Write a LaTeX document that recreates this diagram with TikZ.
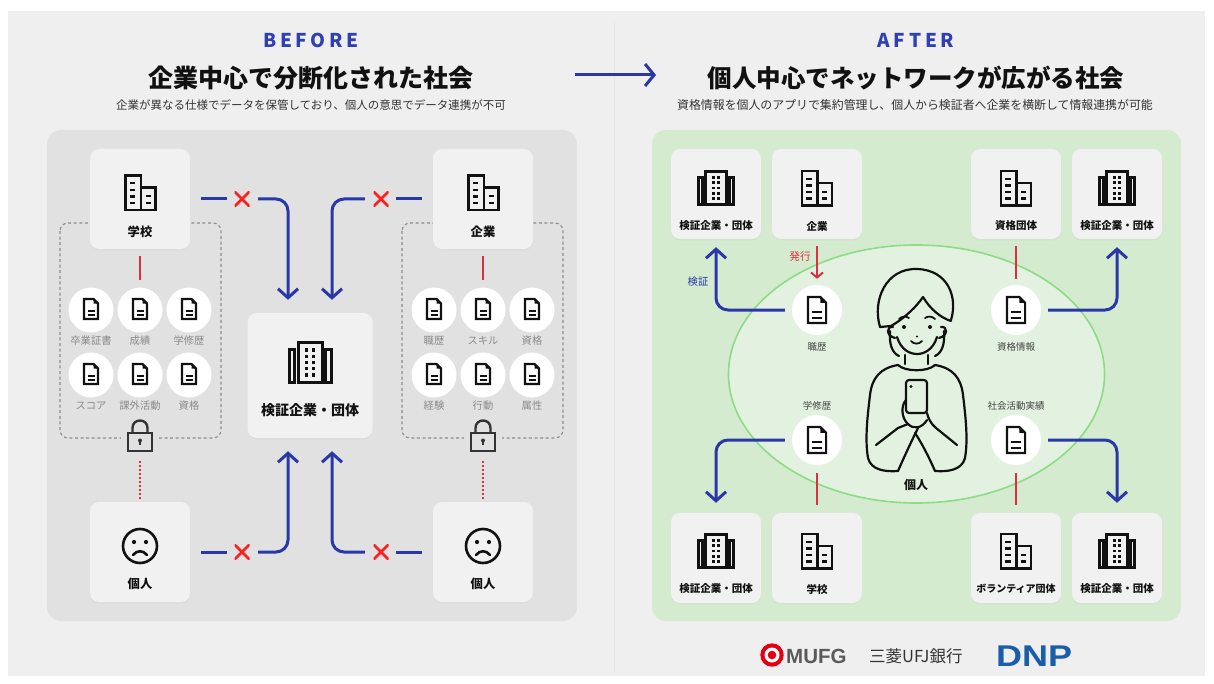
\documentclass[tikz,border=0pt]{standalone}
\usepackage{fontspec}
\setmainfont{Noto Sans CJK JP}
\newfontfamily\latinhead[LetterSpace=20]{Noto Sans CJK JP}
\newfontfamily\logofont{Liberation Sans}
\usetikzlibrary{arrows.meta,shadows}

\definecolor{pagebg}{HTML}{EFEFEF}
\definecolor{leftpanel}{HTML}{E1E1E1}
\definecolor{boxfill}{HTML}{F1F1F1}
\definecolor{greenpanel}{HTML}{D4EBD0}
\definecolor{ellfill}{HTML}{E3F2E0}
\definecolor{ellline}{HTML}{8EDB86}
\definecolor{flowblue}{HTML}{2A37A8}
\definecolor{headblue}{HTML}{2E40B4}
\definecolor{linkred}{HTML}{DC3040}
\definecolor{crossred}{HTML}{FF1E1E}
\definecolor{inkgray}{HTML}{111111}
\definecolor{lockgray}{HTML}{333333}
\definecolor{labelgray}{HTML}{8A8A8A}
\definecolor{darklabel}{HTML}{444444}
\definecolor{subgray}{HTML}{333333}
\definecolor{dashgray}{HTML}{8C8C8C}
\definecolor{mufgred}{HTML}{E60012}
\definecolor{mufggray}{HTML}{5A5A5A}
\definecolor{dnpblue}{HTML}{1A5DAB}

\tikzset{
  card/.style={draw=none, fill=boxfill, rounded corners=9pt, inner sep=0pt,
    drop shadow={shadow xshift=0pt, shadow yshift=-1.5pt, opacity=0.05}},
  bigcard/.style={card, minimum width=100pt, minimum height=100pt},
  hubcard/.style={card, minimum width=125pt, minimum height=125pt},
  smallcard/.style={card, minimum width=90pt, minimum height=90pt},
  docdot/.style={circle, fill=white, draw=none, inner sep=0pt, minimum size=45pt},
  bigdocdot/.style={circle, fill=white, draw=none, inner sep=0pt, minimum size=50pt},
  cardlabel/.style={font=\fontsize{12.3}{14}\selectfont\bfseries, text=inkgray, inner sep=0pt},
  minilabel/.style={font=\fontsize{10.5}{12}\selectfont\bfseries, text=inkgray, inner sep=0pt},
  doclabel/.style={font=\fontsize{10.3}{12}\selectfont, text=labelgray, inner sep=0pt},
  itemlabel/.style={font=\fontsize{9.5}{11}\selectfont, text=darklabel, inner sep=0pt},
  frame/.style={draw=dashgray, line width=1.1pt, dash pattern=on 3pt off 2.6pt, rounded corners=8pt},
  flow/.style={draw=flowblue, line width=3pt},
  flowarrow/.style={flow, rounded corners=12pt, -{Straight Barb[length=9pt,width=20pt]}},
  issue/.style={draw=linkred, line width=2pt, -{Straight Barb[length=5pt,width=12pt]}},
  tie/.style={draw=linkred, line width=2pt},
  dottie/.style={draw=linkred, line width=2pt, dash pattern=on 2pt off 2pt},
  nogo/.style={minimum size=15pt, inner sep=0pt, path picture={
      \draw[crossred, line width=2.5pt]
        (path picture bounding box.north west) -- (path picture bounding box.south east)
        (path picture bounding box.north east) -- (path picture bounding box.south west);}},
  person/.style={draw=inkgray, line width=2.2pt, line cap=round, line join=round},
  % company building: tall block with a lower annex
  tower/.pic={
    \draw[line width=2.7pt, inkgray] (-15,-17) rectangle (0.5,17.5) (0.5,-5) rectangle (15,17.5);
    \foreach \w in {-9.2,-2.5,4.2,10.4}{\fill[inkgray] (-11,\w-1.2) rectangle (-5.5,\w+1.2);}
    \foreach \w in {3.8,10.4}{\fill[inkgray] (5,\w-1.2) rectangle (10,\w+1.2);}
  },
  % verifier headquarters: central tower between two side wings
  hq/.pic={
    \draw[line width=3pt, inkgray] (-12,-20) rectangle (12,20);
    \draw[line width=3pt, inkgray] (-21,-12.7) rectangle (-15.5,20);
    \draw[line width=3pt, inkgray] (15.5,-12.7) rectangle (21,20);
    \foreach \r in {-12.5,-6.25,0,6.25,12.5}{
      \fill[inkgray] (-5,\r-1.65) rectangle (-1.7,\r+1.65);
      \fill[inkgray] (1.7,\r-1.65) rectangle (5,\r+1.65);
    }
  },
  doc/.pic={
    \draw[line width=2.2pt, inkgray, line join=miter] (-7,-10) -- (2.5,-10) -- (7,-5.5) -- (7,10) -- (-7,10) -- cycle;
    \fill[inkgray] (2.5,-10) -- (2.5,-5.5) -- (7,-5.5) -- cycle;
    \draw[line width=2pt, inkgray] (-3.5,1.8) -- (3.5,1.8) (-3.5,5.8) -- (3.5,5.8);
  },
  sadface/.pic={
    \draw[line width=2.6pt, inkgray] (0,0) circle[radius=17];
    \fill[inkgray] (-6,-4) circle[radius=2.1] (6,-4) circle[radius=2.1];
    \draw[line width=2.6pt, inkgray, line cap=round] (-7,9) .. controls (-3,4) and (3,4) .. (7,9);
  },
  padlock/.pic={
    \fill[leftpanel] (-19,-4) rectangle (19,5);
    \draw[line width=2.4pt, lockgray] (-7.5,-4) -- (-7.5,-9) .. controls (-7.5,-19) and (7.5,-19) .. (7.5,-9) -- (7.5,-4);
    \draw[line width=2.4pt, lockgray, fill=leftpanel] (-12,-4) rectangle (12,14);
    \fill[lockgray] (0,3.5) circle[radius=2];
    \draw[line width=1.6pt, lockgray] (0,3.5) -- (0,8);
  },
}

\begin{document}
\begin{tikzpicture}[x=1pt,y=-1pt]
\useasboundingbox (0,0) rectangle (1214,684);
\fill[white] (0,0) rectangle (1214,684);
\fill[pagebg] (8,11) rectangle (1205,676);
\draw[draw=black!9, line width=1pt] (614,22) -- (614,672);

% ---------- headings ----------
\node[font=\latinhead\fontsize{19}{20}\selectfont\bfseries, text=headblue] (hbefore) at (311,40) {BEFORE};
\node[font=\fontsize{25}{28}\selectfont\bfseries, text=inkgray] (tbefore) at (311,78) {企業中心で分断化された社会};
\node[font=\fontsize{11.5}{13}\selectfont, text=subgray] (sbefore) at (311,105) {企業が異なる仕様でデータを保管しており、個人の意思でデータ連携が不可};
\node[font=\latinhead\fontsize{19}{20}\selectfont\bfseries, text=headblue] (hafter) at (916,40) {AFTER};
\node[font=\fontsize{24.5}{28}\selectfont\bfseries, text=inkgray] (tafter) at (916,78) {個人中心でネットワークが広がる社会};
\node[font=\fontsize{11.9}{13}\selectfont, text=subgray] (safter) at (915,105) {資格情報を個人のアプリで集約管理し、個人から検証者へ企業を横断して情報連携が可能};
\coordinate (shiftfrom) at (575,75);
\coordinate (shiftto) at (656,75);
\draw[flow, -{Straight Barb[length=9pt,width=22pt]}] (shiftfrom) -- (shiftto);

% ---------- BEFORE panel ----------
\fill[leftpanel, rounded corners=14pt] (47,130) rectangle (577,621);
\draw[frame] (60,223) rectangle (221,438);
\draw[frame] (402,223) rectangle (563,438);

\node[bigcard] (school) at (140,199) {};
\pic at (140.5,192.5) {tower};
\node[cardlabel] at (140,232) {学校};
\node[bigcard] (firm) at (483,199) {};
\pic at (483.5,192.5) {tower};
\node[cardlabel] at (483,232) {企業};
\node[hubcard] (hub) at (310,375.5) {};
\pic at (310,362.5) {hq};
\node[font=\fontsize{14}{16}\selectfont\bfseries, text=inkgray, inner sep=0pt] at (310,410) {検証企業・団体};
\node[bigcard] (userL) at (140,552) {};
\pic at (140,546) {sadface};
\node[cardlabel] at (140,584) {個人};
\node[bigcard] (userR) at (483,552) {};
\pic at (483,546) {sadface};
\node[cardlabel] at (483,584) {個人};

% school records
\foreach \nm/\x/\y/\t in {sa/91/310/卒業証書, sb/140/310/成績, sc/189/310/学修歴,
                           sd/91/375/スコア, se/140/375/課外活動, sf/189/375/資格,
                           fa/434/310/職歴, fb/483/310/スキル, fc/532/310/資格,
                           fd/434/375/経験, fe/483/375/行動, ff/532/375/属性}{
  \node[docdot] (\nm) at (\x,\y) {};
  \pic at (\x,\y-1) {doc};
  \node[doclabel] at (\x,\y+31) {\t};
}

\coordinate (lockL) at (140,437);
\coordinate (lockR) at (483,437);
\pic at (lockL) {padlock};
\pic at (lockR) {padlock};

\draw[tie] ([yshift=-7pt]school.south) -- ([yshift=7.5pt]sb.north);
\draw[tie] ([yshift=-7pt]firm.south) -- ([yshift=7.5pt]fb.north);
\draw[dottie] ([yshift=-24pt]lockL) -- ([yshift=2pt]userL.north);
\draw[dottie] ([yshift=-24pt]lockR) -- ([yshift=2pt]userR.north);

% blocked flows towards the verifier
\node[nogo] (xTL) at (242,199) {};
\node[nogo] (xTR) at (381,199) {};
\node[nogo] (xBL) at (242,552) {};
\node[nogo] (xBR) at (381,552) {};
\draw[flow] ([xshift=11pt]school.east) -- ([xshift=-7.5pt]xTL.west);
\draw[flowarrow] ([xshift=8.5pt]xTL.east) -| ([xshift=-22pt,yshift=13pt]hub.north);
\draw[flow] ([xshift=-11pt]firm.west) -- ([xshift=7.5pt]xTR.east);
\draw[flowarrow] ([xshift=-8.5pt]xTR.west) -| ([xshift=22pt,yshift=13pt]hub.north);
\draw[flow] ([xshift=11pt]userL.east) -- ([xshift=-7.5pt]xBL.west);
\draw[flowarrow] ([xshift=8.5pt]xBL.east) -| ([xshift=-22pt,yshift=-13pt]hub.south);
\draw[flow] ([xshift=-11pt]userR.west) -- ([xshift=7.5pt]xBR.east);
\draw[flowarrow] ([xshift=-8.5pt]xBR.west) -| ([xshift=22pt,yshift=-13pt]hub.south);

% ---------- AFTER panel ----------
\fill[greenpanel, rounded corners=14pt] (652,130) rectangle (1181,621);
\draw[fill=ellfill, draw=ellline, line width=1.6pt] (916.5,374) ellipse [x radius=188, y radius=129];

\node[smallcard] (vTL) at (716,194) {};
\pic[scale=0.84] at (716,188) {hq};
\node[minilabel] at (716,226) {検証企業・団体};
\node[smallcard] (coTop) at (817,194) {};
\pic at (817,188) {tower};
\node[minilabel] at (817,226) {企業};
\node[smallcard] (quTop) at (1016,194) {};
\pic at (1016,188) {tower};
\node[minilabel] at (1016,226) {資格団体};
\node[smallcard] (vTR) at (1117,194) {};
\pic[scale=0.84] at (1117,188) {hq};
\node[minilabel] at (1117,226) {検証企業・団体};

\node[smallcard] (vBL) at (716,558) {};
\pic[scale=0.84] at (716,551) {hq};
\node[minilabel] at (716,589) {検証企業・団体};
\node[smallcard] (schB) at (817,558) {};
\pic at (817,551) {tower};
\node[minilabel] at (817,589) {学校};
\node[smallcard] (volB) at (1016,558) {};
\pic at (1016,551) {tower};
\node[minilabel, font=\fontsize{10}{12}\selectfont\bfseries] at (1016,589) {ボランティア団体};
\node[smallcard] (vBR) at (1117,558) {};
\pic[scale=0.84] at (1117,551) {hq};
\node[minilabel] at (1117,589) {検証企業・団体};

\node[bigdocdot] (career) at (817,310) {};
\pic[scale=1.3] at (817,310) {doc};
\node[itemlabel] at (817,347) {職歴};
\node[bigdocdot] (quals) at (1016,310) {};
\pic[scale=1.3] at (1016,310) {doc};
\node[itemlabel] at (1016,347) {資格情報};
\node[bigdocdot] (study) at (817,440) {};
\pic[scale=1.3] at (817,440) {doc};
\node[itemlabel] at (817,406) {学修歴};
\node[bigdocdot] (social) at (1016,440) {};
\pic[scale=1.3] at (1016,440) {doc};
\node[itemlabel] at (1016,406) {社会活動実績};

\draw[issue] ([yshift=-7pt]coTop.south) -- ([yshift=6pt]career.north);
\node[font=\fontsize{10.7}{12}\selectfont, text=linkred, inner sep=0pt] at (800,256) {発行};
\draw[tie] ([yshift=-7pt]quTop.south) -- ([yshift=6pt]quals.north);
\draw[tie] ([yshift=-8pt]study.south) -- ([yshift=8pt]schB.north);
\draw[tie] ([yshift=-8pt]social.south) -- ([yshift=8pt]volB.north);

\draw[flowarrow] ([xshift=-7pt]career.west) -| ([yshift=-8pt]vTL.south);
\node[font=\fontsize{10.3}{12}\selectfont, text=flowblue, inner sep=0pt] at (698,282) {検証};
\draw[flowarrow] ([xshift=7pt]quals.east) -| ([yshift=-8pt]vTR.south);
\draw[flowarrow] ([xshift=-7pt]study.west) -| ([yshift=10pt]vBL.north);
\draw[flowarrow] ([xshift=7pt]social.east) -| ([yshift=10pt]vBR.north);

% person holding a smartphone
\draw[person] (880,327) .. controls (872,300) and (886,268) .. (917,269)
  .. controls (948,270) and (958,297) .. (951,320);
\draw[person] (880,327) -- (891,326) .. controls (905,318) and (917,306) .. (923,297)
  .. controls (930,309) and (941,318) .. (951,321);
\draw[person] (890,331) .. controls (889,344) and (892,353) .. (899,356);
\draw[person] (944,331) .. controls (945,344) and (942,353) .. (935,356);
\draw[person] (893,327) .. controls (886,326) and (886,336) .. (895,338);
\draw[person] (941,327) .. controls (948,326) and (948,336) .. (939,338);
\draw[person] (897,337) .. controls (901,350) and (910,354) .. (917,354)
  .. controls (924,354) and (933,350) .. (937,337);
\fill[inkgray] (904,327) circle[radius=2] (930,327) circle[radius=2] (917,336.5) circle[radius=1.1];
\draw[person, line width=1.8pt] (899,319) .. controls (902,316) and (906,316) .. (909,318);
\draw[person, line width=1.8pt] (925,318) .. controls (928,316) and (932,316) .. (935,319);
\draw[person, line width=1.8pt] (911,341) .. controls (914,344.5) and (919,344.5) .. (922,341);
\draw[person] (905,355) -- (905,364) (928,355) -- (928,364);
\draw[person] (898,365) .. controls (905,372) and (928,372) .. (935,365);
\draw[person] (898,365) .. controls (880,368) and (872,378) .. (870,395)
  .. controls (867,420) and (865,440) .. (868,458) .. controls (871,470) and (885,472) .. (898,471);
\draw[person] (935,365) .. controls (953,368) and (961,378) .. (963,395)
  .. controls (966,420) and (968,440) .. (965,458) .. controls (962,470) and (948,472) .. (935,471);
\draw[person, rounded corners=3pt] (906,380) rectangle (927,413);
\fill[inkgray] (911,386.5) circle[radius=1.7];
\draw[person] (906,400) .. controls (901,405) and (901,418) .. (908,424) .. controls (914,430) and (922,428) .. (927,420);
\draw[person] (876,445) -- (898,428) -- (908,424);
\draw[person] (957,445) -- (936,428) .. controls (931,424) and (928,418) .. (927,413);
\draw[person] (898,471) .. controls (905,455) and (912,440) .. (918,428);
\draw[person] (935,471) .. controls (928,455) and (921,442) .. (915,433);
\node[font=\fontsize{12}{14}\selectfont\bfseries, text=inkgray, inner sep=0pt] at (916,485) {個人};

% ---------- sponsor marks ----------
\fill[mufgred] (772,655) circle[radius=11.7];
\fill[white] (772,655) circle[radius=7.5];
\fill[mufgred] (772,655) circle[radius=4.3];
\node[anchor=west, font=\logofont\fontsize{20.5}{22}\selectfont\bfseries, text=mufggray, inner sep=0pt] at (786,656) {MUFG};
\node[anchor=west, font=\fontsize{16.5}{18}\selectfont, text=subgray, inner sep=0pt] at (869,656) {三菱UFJ銀行};
\node[anchor=west, font=\logofont\fontsize{30}{32}\selectfont\bfseries, text=dnpblue, inner sep=0pt] at (996,656) {\scalebox{1.2}[1]{DNP}};
\end{tikzpicture}
\end{document}
